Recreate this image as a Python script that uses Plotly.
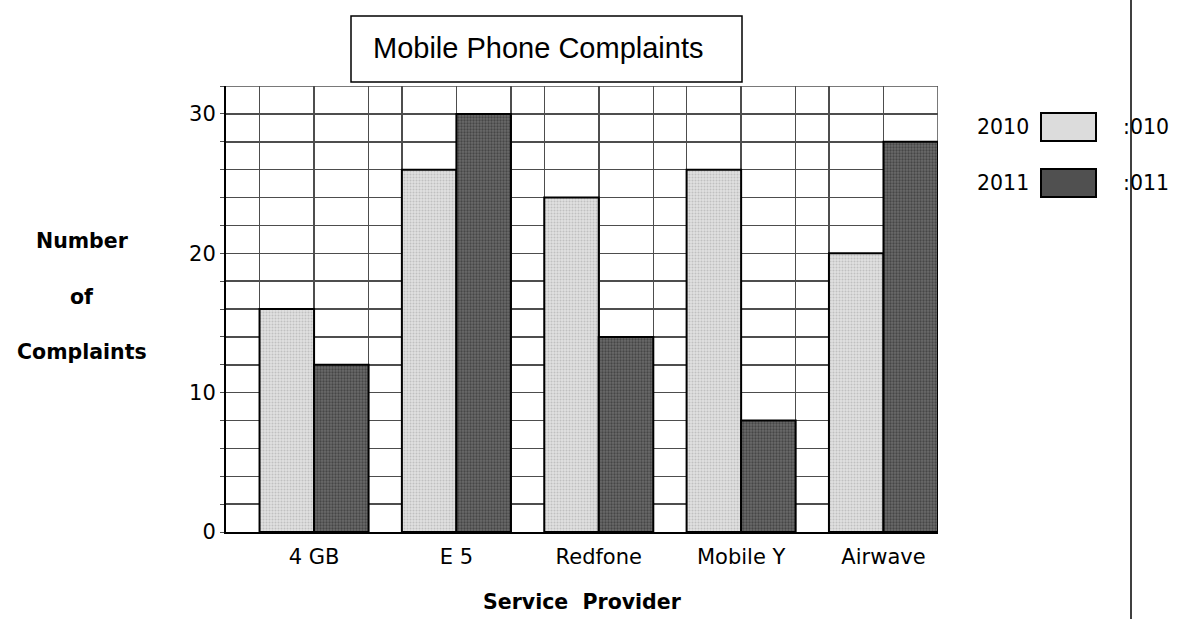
import plotly.graph_objects as go

# ---- data ----
providers = ["4 GB", "E 5", "Redfone", "Mobile Y", "Airwave"]
years = ["2010", "2011"]
complaints_2010 = [16, 26, 24, 26, 20]
complaints_2011 = [12, 30, 14, 8, 28]
y_ticks = [0, 10, 20, 30]

# ---- geometry (pixels) ----
W, H = 1184, 619
L, R, T, B = 226, 938, 86, 532
BW = 0.383           # bar width in category units
XMIN, XMAX = -0.6186, 4 + BW
YMAX = 32

def px(x):
    return (x - L) / (R - L)

def py(y):
    return (B - y) / (B - T)

idx = list(range(len(providers)))
GRID = "#4d4d4d"
SMALL = "DejaVu Sans, Verdana, sans-serif"
TITLEF = "Liberation Sans, Arial, sans-serif"

fig = go.Figure()
fig.add_trace(go.Bar(
    x=idx, y=complaints_2010, name=years[0], width=BW, offset=-BW,
    marker=dict(color="#dadada", line=dict(color="black", width=2),
                pattern=dict(shape=".", fgcolor="#a0a0a0", bgcolor="#e0e0e0",
                             size=3, solidity=0.35)),
    showlegend=False))
fig.add_trace(go.Bar(
    x=idx, y=complaints_2011, name=years[1], width=BW, offset=0,
    marker=dict(color="#4a4a4a", line=dict(color="black", width=2),
                pattern=dict(shape=".", fgcolor="#222222", bgcolor="#6a6a6a",
                             size=3, solidity=0.45)),
    showlegend=False))

edges = []
for i in idx:
    edges += [i - BW, i + BW]

fig.update_layout(
    width=W, height=H, autosize=False,
    margin=dict(l=L, r=W - R, t=T, b=H - B, pad=0),
    paper_bgcolor="white", plot_bgcolor="white",
    font=dict(family=SMALL, size=21, color="black"),
    barmode="overlay",
    xaxis=dict(
        range=[XMIN, XMAX], tickmode="array", tickvals=idx, ticktext=providers,
        showgrid=True, gridcolor=GRID, gridwidth=1.5,
        showline=True, linecolor="black", linewidth=2,
        ticks="", ticklabelstandoff=5, zeroline=False,
        tickfont=dict(family=SMALL, size=21),
        minor=dict(tickmode="array", tickvals=edges, showgrid=True,
                   gridcolor=GRID, gridwidth=1.5),
    ),
    yaxis=dict(
        range=[0, YMAX], tickmode="array", tickvals=y_ticks,
        showgrid=True, gridcolor=GRID, gridwidth=1.5,
        showline=True, linecolor="black", linewidth=2,
        ticks="outside", ticklen=4, tickcolor=GRID, zeroline=False,
        tickfont=dict(family=SMALL, size=21),
        minor=dict(dtick=2, tick0=0, showgrid=True, gridcolor=GRID, gridwidth=1.5,
                   ticks="outside", ticklen=4, tickcolor=GRID),
    ),
)

shapes = []
annotations = []

# top and right plot borders drawn in grid style
shapes.append(dict(type="line", xref="paper", yref="y", x0=0, x1=1, y0=YMAX, y1=YMAX,
                   line=dict(color=GRID, width=1.5), layer="below"))
shapes.append(dict(type="line", xref="x", yref="paper", x0=XMAX, x1=XMAX, y0=0, y1=1,
                   line=dict(color=GRID, width=1.5), layer="below"))

# title box
shapes.append(dict(type="rect", xref="paper", yref="paper",
                   x0=px(351), x1=px(742), y0=py(82), y1=py(16),
                   line=dict(color="black", width=1.5), fillcolor="white", layer="above"))
annotations.append(dict(text="Mobile Phone Complaints", xref="paper", yref="paper",
                        x=px(371), y=py(48), xanchor="left", yanchor="middle",
                        showarrow=False, font=dict(family=TITLEF, size=29, color="black")))

# y-axis title (three lines)
for word, yc in [("Number", 241), ("of", 297), ("Complaints", 352)]:
    annotations.append(dict(text="<b>" + word + "</b>", xref="paper", yref="paper",
                            x=px(82), y=py(yc), xanchor="center", yanchor="middle",
                            showarrow=False, font=dict(family=SMALL, size=20.5)))

# x-axis title
annotations.append(dict(text="<b>Service&nbsp;&nbsp;Provider</b>", xref="paper", yref="paper",
                        x=0.5, y=py(602), xanchor="center", yanchor="middle",
                        showarrow=False, font=dict(family=SMALL, size=20.5)))

# legend (custom)
legend_fill = ["#dcdcdc", "#505050"]
legend_y = [(113, 141), (169, 197)]
for name, fill, (yt, yb) in zip(years, legend_fill, legend_y):
    shapes.append(dict(type="rect", xref="paper", yref="paper",
                       x0=px(1041), x1=px(1096), y0=py(yb), y1=py(yt),
                       line=dict(color="black", width=2), fillcolor=fill))
    annotations.append(dict(text=name, xref="paper", yref="paper",
                            x=px(1031), y=py((yt + yb) / 2), xanchor="right", yanchor="middle",
                            showarrow=False, font=dict(family=SMALL, size=20.5)))
    annotations.append(dict(text=":" + name[1:], xref="paper", yref="paper",
                            x=px(1121), y=py((yt + yb) / 2), xanchor="left", yanchor="middle",
                            showarrow=False, font=dict(family=SMALL, size=20.5)))

# page-edge vertical line
shapes.append(dict(type="line", xref="paper", yref="paper",
                   x0=px(1131), x1=px(1131), y0=py(H + 5), y1=py(-5),
                   line=dict(color="black", width=1.5)))

fig.update_layout(shapes=shapes, annotations=annotations)
fig.write_html("out.html",
               config={"displayModeBar": False, "staticPlot": True},
               post_script="document.body.style.margin='0px';document.body.style.overflow='hidden';")
